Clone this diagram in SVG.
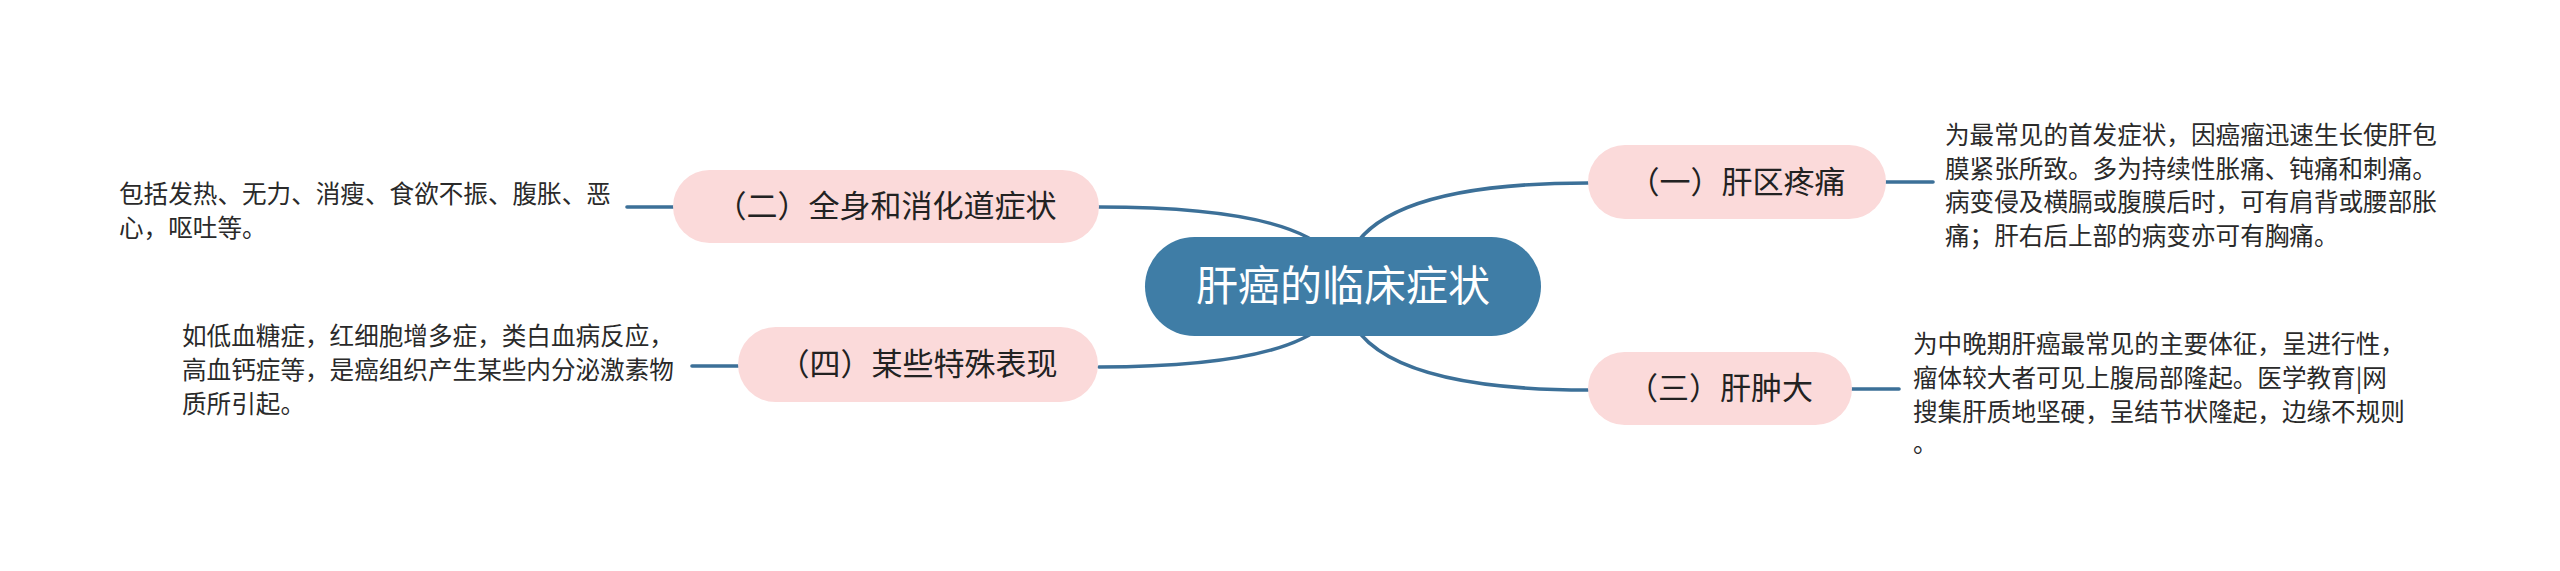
<svg xmlns="http://www.w3.org/2000/svg" width="2560" height="571" viewBox="0 0 2560 571">
<style>
.bg{fill:#ffffff}
.link{fill:none;stroke:#3c7098;stroke-width:3.6;stroke-linecap:round}
.root{fill:#3f7da6}
.topic{fill:#fbdada}
.rootText{font-family:'Noto Sans CJK SC','Noto Sans',sans-serif;font-size:42px;fill:#ffffff;text-anchor:middle}
.topicText{font-family:'Noto Sans CJK SC','Noto Sans',sans-serif;font-size:31px;fill:#222222;text-anchor:middle}
.note{font-family:'Noto Sans CJK SC','Noto Sans',sans-serif;font-size:24.6px;fill:#2a2a2a}
</style>
<rect class="bg" x="0" y="0" width="2560" height="571"/>
<g id="connectors">
<path class="link" d="M1343 286 Q1343 183 1588 183"/>
<path class="link" d="M1343 286 Q1343 207 1099 207"/>
<path class="link" d="M1343 286 Q1343 367 1099 367"/>
<path class="link" d="M1343 286 Q1343 390 1588 390"/>
<path class="link" d="M1886 182 L1933 182"/>
<path class="link" d="M673 207 L627 207"/>
<path class="link" d="M738 366 L692 366"/>
<path class="link" d="M1852 389 L1899 389"/>
</g>
<g id="root">
<rect class="root" x="1145" y="237" width="396" height="99" rx="49.5" ry="49.5"/>
<text class="rootText" x="1343" y="301">肝癌的临床症状</text>
</g>
<g id="topic1">
<rect class="topic" x="1588" y="145" width="298" height="74" rx="37" ry="37"/>
<text class="topicText" x="1737" y="193">（一）肝区疼痛</text>
</g>
<g id="note1">
<text class="note" x="1945" y="144">为最常见的首发症状，因癌瘤迅速生长使肝包</text>
<text class="note" x="1945" y="178">膜紧张所致。多为持续性胀痛、钝痛和刺痛。</text>
<text class="note" x="1945" y="211">病变侵及横膈或腹膜后时，可有肩背或腰部胀</text>
<text class="note" x="1945" y="245">痛；肝右后上部的病变亦可有胸痛。</text>
</g>
<g id="topic2">
<rect class="topic" x="673" y="170" width="426" height="73" rx="36.5" ry="36.5"/>
<text class="topicText" x="886" y="217">（二）全身和消化道症状</text>
</g>
<g id="note2">
<text class="note" x="119" y="203">包括发热、无力、消瘦、食欲不振、腹胀、恶</text>
<text class="note" x="119" y="237">心，呕吐等。</text>
</g>
<g id="topic3">
<rect class="topic" x="1588" y="352" width="264" height="73" rx="36.5" ry="36.5"/>
<text class="topicText" x="1720" y="399">（三）肝肿大</text>
</g>
<g id="note3">
<text class="note" x="1913" y="353">为中晚期肝癌最常见的主要体征，呈进行性，</text>
<text class="note" x="1913" y="387">瘤体较大者可见上腹局部隆起。医学教育|网</text>
<text class="note" x="1913" y="421">搜集肝质地坚硬，呈结节状隆起，边缘不规则</text>
<text class="note" x="1913" y="452">。</text>
</g>
<g id="topic4">
<rect class="topic" x="738" y="327" width="360" height="75" rx="37.5" ry="37.5"/>
<text class="topicText" x="918" y="375">（四）某些特殊表现</text>
</g>
<g id="note4">
<text class="note" x="182" y="345">如低血糖症，红细胞增多症，类白血病反应，</text>
<text class="note" x="182" y="379">高血钙症等，是癌组织产生某些内分泌激素物</text>
<text class="note" x="182" y="413">质所引起。</text>
</g>
</svg>
